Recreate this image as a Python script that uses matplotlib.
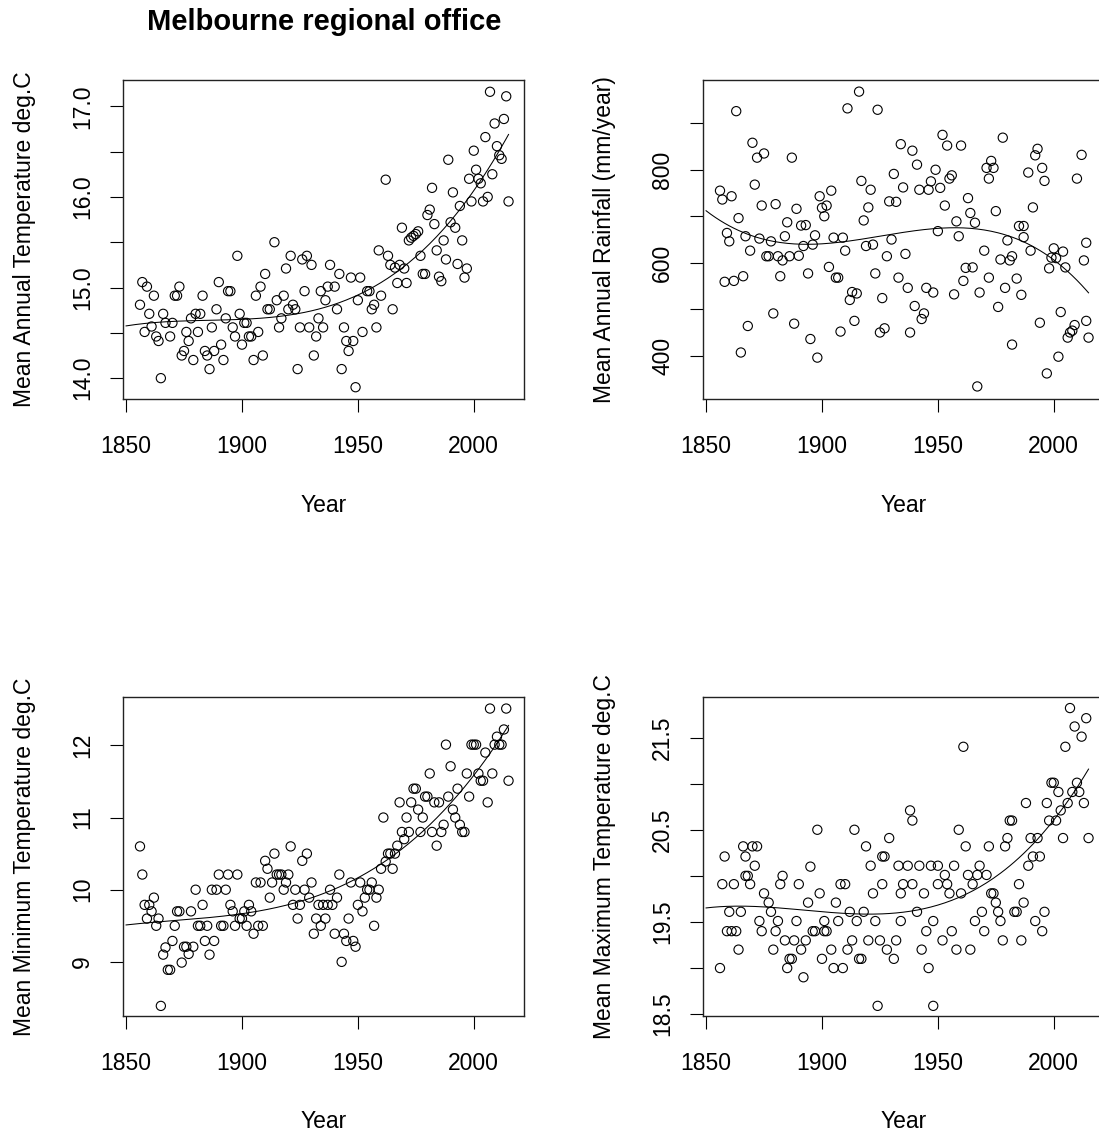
import numpy as np
import matplotlib
matplotlib.use("Agg")
import matplotlib.pyplot as plt

plt.rcParams['font.family'] = ['Liberation Sans', 'DejaVu Sans']

# ---- data ----
temp_year = [1857, 1859, 1856, 1860, 1862, 1858, 1861, 1863, 1864, 1865, 1866, 1867, 1869, 1870,
             1871, 1872, 1873, 1874, 1875, 1876, 1877, 1878, 1879, 1880, 1881, 1882, 1883, 1884,
             1885, 1886, 1887, 1888, 1889, 1890, 1891, 1892, 1893, 1894, 1895, 1896, 1897, 1898,
             1899, 1900, 1901, 1902, 1903, 1904, 1905, 1906, 1907, 1908, 1909, 1910, 1911, 1912,
             1914, 1915, 1916, 1917, 1918, 1919, 1920, 1921, 1922, 1923, 1924, 1925, 1926, 1927,
             1928, 1929, 1930, 1931, 1932, 1933, 1934, 1935, 1936, 1937, 1938, 1940, 1941, 1942,
             1943, 1944, 1945, 1946, 1948, 1947, 1951, 1949, 1950, 1952, 1954, 1955, 1956, 1957,
             1958, 1959, 1960, 1962, 1963, 1964, 1965, 1966, 1967, 1968, 1969, 1970, 1971, 1972,
             1973, 1974, 1975, 1976, 1977, 1978, 1979, 1980, 1981, 1982, 1983, 1984, 1985, 1986,
             1987, 1988, 1989, 1990, 1991, 1992, 1993, 1994, 1995, 1996, 1997, 1998, 1999, 2000,
             2001, 2002, 2003, 2004, 2005, 2006, 2007, 2008, 2009, 2010, 2011, 2012, 2013, 2014,
             2015]
temp_mean = [15.06, 15.01, 14.81, 14.71, 14.91, 14.51, 14.57, 14.46, 14.41, 14.00, 14.71, 14.61,
             14.46, 14.61, 14.91, 14.91, 15.01, 14.25, 14.30, 14.51, 14.41, 14.66, 14.20, 14.71,
             14.51, 14.71, 14.91, 14.30, 14.25, 14.10, 14.56, 14.30, 14.76, 15.06, 14.37, 14.20,
             14.66, 14.96, 14.96, 14.56, 14.46, 15.35, 14.71, 14.37, 14.61, 14.61, 14.46, 14.46,
             14.20, 14.91, 14.51, 15.01, 14.25, 15.15, 14.76, 14.76, 15.50, 14.86, 14.56, 14.66,
             14.91, 15.21, 14.76, 15.35, 14.81, 14.76, 14.10, 14.56, 15.31, 14.96, 15.35, 14.56,
             15.25, 14.25, 14.46, 14.66, 14.96, 14.56, 14.86, 15.01, 15.25, 15.01, 14.76, 15.15,
             14.10, 14.56, 14.41, 14.30, 14.41, 15.11, 15.11, 13.90, 14.86, 14.51, 14.96, 14.96,
             14.76, 14.81, 14.56, 15.41, 14.91, 16.19, 15.35, 15.25, 14.76, 15.22, 15.05, 15.25,
             15.66, 15.21, 15.05, 15.52, 15.55, 15.57, 15.59, 15.62, 15.35, 15.15, 15.15, 15.80,
             15.86, 16.10, 15.70, 15.41, 15.12, 15.07, 15.52, 15.31, 16.41, 15.72, 16.05, 15.66,
             15.26, 15.90, 15.52, 15.11, 15.21, 16.20, 15.95, 16.51, 16.30, 16.20, 16.15, 15.95,
             16.66, 16.00, 17.16, 16.25, 16.81, 16.56, 16.46, 16.42, 16.86, 17.11, 15.95]

rain_year = [1856, 1857, 1861, 1859, 1860, 1858, 1862, 1863, 1864, 1865, 1866, 1867, 1868, 1869,
             1870, 1871, 1872, 1873, 1874, 1875, 1876, 1877, 1878, 1879, 1880, 1881, 1882, 1883,
             1884, 1885, 1886, 1887, 1888, 1889, 1890, 1891, 1893, 1892, 1894, 1895, 1896, 1897,
             1898, 1899, 1900, 1901, 1903, 1902, 1904, 1905, 1906, 1907, 1908, 1909, 1910, 1911,
             1912, 1913, 1914, 1915, 1916, 1917, 1918, 1919, 1920, 1921, 1922, 1923, 1924, 1925,
             1926, 1927, 1928, 1929, 1932, 1930, 1931, 1933, 1934, 1935, 1936, 1937, 1938, 1939,
             1940, 1941, 1942, 1943, 1944, 1945, 1947, 1946, 1948, 1949, 1950, 1951, 1952, 1953,
             1954, 1955, 1956, 1957, 1958, 1959, 1960, 1961, 1962, 1965, 1963, 1964, 1966, 1967,
             1968, 1970, 1971, 1972, 1973, 1974, 1972, 1975, 1976, 1977, 1978, 1979, 1980, 1981,
             1982, 1982, 1984, 1985, 1987, 1986, 1987, 1989, 1990, 1991, 1992, 1993, 1994, 1995,
             1996, 1997, 1998, 1999, 2000, 2001, 2002, 2003, 2004, 2005, 2006, 2007, 2008, 2009,
             2010, 2012, 2013, 2014, 2014, 2015]
rain_total = [755, 736, 743, 664, 646, 559, 561, 926, 696, 407, 571, 657, 464, 626,
              858, 768, 826, 652, 723, 835, 614, 614, 646, 491, 726, 614, 571, 605,
              657, 687, 614, 826, 469, 716, 615, 680, 681, 636, 577, 436, 639, 659,
              396, 743, 718, 700, 591, 723, 755, 654, 568, 568, 452, 654, 626, 932,
              520, 537, 475, 534, 968, 776, 691, 636, 719, 757, 639, 577, 929, 450,
              524, 459, 614, 732, 731, 650, 791, 568, 855, 762, 619, 546, 450, 841,
              507, 811, 757, 479, 491, 546, 775, 757, 536, 800, 668, 761, 875, 723,
              852, 781, 788, 532, 689, 657, 852, 561, 589, 590, 739, 707, 686, 334,
              536, 626, 804, 781, 819, 804, 568, 711, 505, 607, 869, 546, 648, 605,
              614, 424, 566, 679, 679, 531, 655, 794, 626, 719, 831, 845, 471, 804,
              776, 362, 588, 611, 631, 610, 398, 494, 624, 590, 439, 450, 454, 466,
              781, 832, 605, 643, 475, 439]

tmin_year = [1856, 1857, 1858, 1860, 1859, 1862, 1861, 1863, 1864, 1865, 1866, 1867, 1868, 1869,
             1870, 1871, 1872, 1873, 1874, 1875, 1876, 1877, 1879, 1878, 1880, 1881, 1882, 1885,
             1883, 1884, 1886, 1888, 1887, 1889, 1890, 1891, 1892, 1893, 1894, 1895, 1896, 1897,
             1898, 1899, 1900, 1901, 1902, 1903, 1904, 1905, 1906, 1907, 1908, 1909, 1910, 1911,
             1912, 1913, 1914, 1915, 1916, 1917, 1918, 1919, 1920, 1921, 1922, 1923, 1924, 1925,
             1926, 1927, 1928, 1929, 1930, 1931, 1932, 1933, 1934, 1935, 1936, 1937, 1938, 1939,
             1940, 1941, 1942, 1943, 1944, 1945, 1946, 1947, 1948, 1949, 1950, 1951, 1952, 1953,
             1954, 1955, 1956, 1957, 1958, 1959, 1960, 1961, 1962, 1963, 1964, 1965, 1966, 1967,
             1968, 1969, 1970, 1971, 1972, 1973, 1974, 1975, 1976, 1977, 1978, 1979, 1980, 1981,
             1982, 1983, 1984, 1985, 1986, 1987, 1988, 1989, 1990, 1991, 1992, 1993, 1994, 1995,
             1996, 1997, 1998, 1999, 2000, 2001, 2002, 2003, 2004, 2005, 2006, 2007, 2008, 2009,
             2010, 2011, 2012, 2013, 2014, 2015]
tmin_mean = [10.60, 10.21, 9.79, 9.79, 9.60, 9.89, 9.70, 9.50, 9.60, 8.39, 9.10, 9.20, 8.89, 8.89,
             9.29, 9.50, 9.70, 9.70, 8.99, 9.21, 9.21, 9.11, 9.21, 9.70, 10.00, 9.50, 9.50, 9.50,
             9.79, 9.29, 9.10, 9.29, 10.00, 10.00, 10.21, 9.50, 9.50, 10.00, 10.21, 9.79, 9.70, 9.50,
             10.21, 9.60, 9.60, 9.70, 9.50, 9.79, 9.70, 9.39, 10.10, 9.50, 10.10, 9.50, 10.40, 10.29,
             9.89, 10.10, 10.50, 10.21, 10.21, 10.21, 10.00, 10.10, 10.21, 10.60, 9.79, 10.00, 9.60, 9.79,
             10.40, 10.00, 10.50, 9.89, 10.10, 9.39, 9.60, 9.79, 9.50, 9.79, 9.60, 9.79, 10.00, 9.79,
             9.39, 9.89, 10.21, 9.00, 9.39, 9.29, 9.60, 10.10, 9.29, 9.21, 9.79, 10.10, 9.70, 9.89,
             10.00, 10.00, 10.10, 9.50, 9.89, 10.00, 10.29, 11.00, 10.39, 10.50, 10.50, 10.29, 10.50, 10.61,
             11.21, 10.80, 10.70, 11.00, 10.80, 11.21, 11.40, 11.40, 11.11, 10.80, 11.00, 11.29, 11.29, 11.61,
             10.80, 11.21, 10.61, 11.21, 10.80, 10.90, 12.01, 11.29, 11.71, 11.11, 11.00, 11.40, 10.90, 10.80,
             10.80, 11.61, 11.29, 12.01, 12.01, 12.01, 11.61, 11.51, 11.51, 11.90, 11.21, 12.51, 11.61, 12.01,
             12.12, 12.01, 12.01, 12.22, 12.51, 11.51]

tmax_year = [1856, 1857, 1858, 1860, 1859, 1861, 1863, 1862, 1864, 1865, 1866, 1867, 1867, 1868,
             1869, 1870, 1872, 1871, 1873, 1874, 1875, 1877, 1878, 1879, 1880, 1881, 1882, 1883,
             1884, 1885, 1886, 1887, 1888, 1889, 1890, 1891, 1892, 1893, 1894, 1895, 1896, 1897,
             1898, 1899, 1900, 1901, 1901, 1902, 1904, 1905, 1909, 1906, 1907, 1908, 1910, 1911,
             1912, 1913, 1914, 1915, 1916, 1917, 1918, 1919, 1920, 1921, 1922, 1923, 1924, 1925,
             1926, 1927, 1926, 1928, 1929, 1931, 1932, 1933, 1934, 1934, 1935, 1937, 1938, 1939,
             1939, 1941, 1942, 1944, 1943, 1945, 1946, 1947, 1948, 1948, 1950, 1950, 1952, 1953,
             1954, 1955, 1956, 1957, 1958, 1959, 1960, 1961, 1962, 1963, 1964, 1965, 1966, 1967,
             1968, 1969, 1970, 1971, 1972, 1973, 1974, 1975, 1976, 1977, 1978, 1979, 1980, 1981,
             1982, 1983, 1984, 1985, 1986, 1987, 1988, 1989, 1990, 1991, 1992, 1993, 1994, 1995,
             1996, 1997, 1998, 1999, 2000, 2001, 2002, 2003, 2004, 2005, 2006, 2007, 2008, 2009,
             2010, 2011, 2012, 2013, 2014, 2015]
tmax_mean = [19.00, 19.91, 20.21, 19.61, 19.40, 19.40, 19.40, 19.91, 19.20, 19.61, 20.32, 20.21, 20.00, 20.00,
             19.91, 20.32, 20.32, 20.11, 19.51, 19.40, 19.81, 19.71, 19.61, 19.20, 19.40, 19.51, 19.91, 20.00,
             19.30, 19.00, 19.10, 19.10, 19.30, 19.51, 19.91, 19.20, 18.90, 19.30, 19.71, 20.10, 19.40, 19.40,
             20.50, 19.81, 19.10, 19.51, 19.40, 19.40, 19.20, 19.00, 19.00, 19.71, 19.51, 19.91, 19.91, 19.20,
             19.61, 19.30, 20.50, 19.51, 19.10, 19.10, 19.61, 20.32, 19.30, 20.11, 19.81, 19.51, 18.59, 19.30,
             20.21, 20.21, 19.91, 19.20, 20.41, 19.10, 19.30, 20.11, 19.81, 19.51, 19.91, 20.11, 20.71, 19.91,
             20.60, 19.61, 20.11, 19.81, 19.20, 19.40, 19.00, 20.11, 19.51, 18.59, 20.11, 19.91, 19.30, 20.01,
             19.91, 19.81, 19.40, 20.11, 19.20, 20.50, 19.81, 21.40, 20.32, 20.01, 19.20, 19.91, 19.51, 20.01,
             20.11, 19.61, 19.40, 20.01, 20.32, 19.81, 19.81, 19.71, 19.61, 19.51, 19.30, 20.32, 20.41, 20.60,
             20.60, 19.61, 19.61, 19.91, 19.30, 19.71, 20.79, 20.11, 20.41, 20.21, 19.51, 20.41, 20.21, 19.40,
             19.61, 20.79, 20.60, 21.01, 21.01, 20.60, 20.91, 20.71, 20.41, 21.40, 20.79, 21.82, 20.91, 21.62,
             21.01, 20.91, 21.51, 20.79, 21.71, 20.41]

year_ticks = [1850, 1900, 1950, 2000]

W, H = 1099, 1132
FS = 16.5


def addPanel(fig, left, top, years, values, ylim, yticks, ylabels, ylab):
    width, height = 401, 319
    ax = fig.add_axes([left / W, 1 - (top + height) / H, width / W, height / H])
    x = np.array(years, dtype=float)
    y = np.array(values, dtype=float)
    ax.scatter(x, y, s=44, facecolors='none', edgecolors='black', linewidths=0.8, zorder=3)
    # cubic fit drawn over the full year range
    coef = np.polyfit(x - 1935, y, 3)
    xs = np.arange(1850, 2016)
    ax.plot(xs, np.polyval(coef, xs - 1935), color='black', lw=0.75, zorder=2)

    ax.set_xlim(1848.8, 2021.8)
    ax.set_ylim(*ylim)
    ax.set_xticks(year_ticks)
    ax.set_xticklabels([str(t) for t in year_ticks])
    ax.set_yticks(yticks)
    ax.set_yticklabels(ylabels)
    ax.tick_params(axis='both', direction='out', length=9.5, width=0.8, labelsize=FS, color='black')
    ax.tick_params(axis='x', pad=16.5)
    ax.tick_params(axis='y', pad=11.5, labelrotation=90)
    for lab in ax.get_yticklabels():
        lab.set_va('center')
    for s in ax.spines.values():
        s.set_linewidth(1.0)
        s.set_color('#222222')

    cx = left + width / 2
    fig.text(cx / W, 1 - (top + height + 106) / H, "Year", ha='center', va='center', fontsize=FS)
    fig.text((left - 99) / W, 1 - (top + height / 2) / H, ylab, rotation=90,
             ha='center', va='center', fontsize=FS)
    return ax


fig = plt.figure(figsize=(W / 100, H / 100), dpi=100)

addPanel(fig, 123.3, 80, temp_year, temp_mean, (13.77, 17.29),
         [14.0, 14.5, 15.0, 15.5, 16.0, 16.5, 17.0],
         ["14.0", "", "15.0", "", "16.0", "", "17.0"],
         "Mean Annual Temperature deg.C")
addPanel(fig, 703.3, 80, rain_year, rain_total, (307, 993),
         [400, 500, 600, 700, 800, 900],
         ["400", "", "600", "", "800", ""],
         "Mean Annual Rainfall (mm/year)")
addPanel(fig, 123.3, 697, tmin_year, tmin_mean, (8.25, 12.67),
         [9, 10, 11, 12], ["9", "10", "11", "12"],
         "Mean Minimum Temperature deg.C")
addPanel(fig, 703.3, 697, tmax_year, tmax_mean, (18.48, 21.94),
         [18.5, 19.0, 19.5, 20.0, 20.5, 21.0, 21.5],
         ["18.5", "", "19.5", "", "20.5", "", "21.5"],
         "Mean Maximum Temperature deg.C")

fig.text(324 / W, 1 - 22 / H, "Melbourne regional office", ha='center', va='center',
         fontsize=21, fontweight='bold')

fig.savefig("out.png", dpi=100)
